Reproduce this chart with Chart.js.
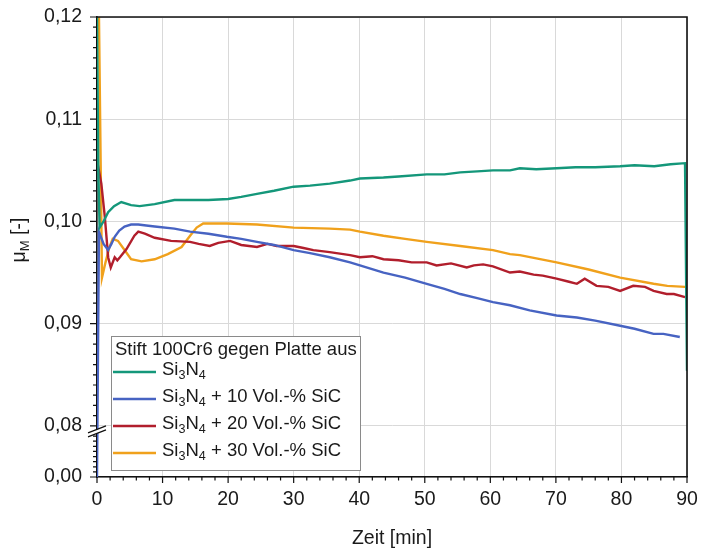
<!DOCTYPE html>
<html><head><meta charset="utf-8">
<script src="https://cdn.jsdelivr.net/npm/chart.js@4"></script>
<style>html,body{margin:0;padding:0;background:#fff}#c{display:block}</style>
</head><body>
<canvas id="c" width="704" height="553"></canvas>
<script>
// ---- data (time in min, friction coefficient mu_M) ----
const legendTitle = "Stift 100Cr6 gegen Platte aus";
const seriesNames = ["Si3N4", "Si3N4 + 10 Vol.-% SiC", "Si3N4 + 20 Vol.-% SiC", "Si3N4 + 30 Vol.-% SiC"];
const seriesColors = ["#14977a", "#4763c2", "#b11e2c", "#f0a11c"];

const tGreen = [0, 0.2, 0.4, 1.0, 1.7, 2.6, 3.7, 5.2, 6.5, 8.8, 11.8, 14.2, 17, 20, 22, 24.4, 27, 30, 32.5, 35.5, 38.6, 40.1, 43.7, 46, 50.3, 53, 55.4, 58, 60.4, 63, 64.5, 67, 70.1, 73, 76, 79.8, 82, 85, 87.5, 89.7, 90];
const vGreen = [0.1200, 0.1050, 0.0994, 0.1000, 0.1009, 0.1015, 0.1019, 0.1016, 0.1015, 0.1017, 0.1021, 0.1021, 0.1021, 0.1022, 0.1024, 0.1027, 0.1030, 0.1034, 0.1035, 0.1037, 0.1040, 0.1042, 0.1043, 0.1044, 0.1046, 0.1046, 0.1048, 0.1049, 0.1050, 0.1050, 0.1052, 0.1051, 0.1052, 0.1053, 0.1053, 0.1054, 0.1055, 0.1054, 0.1056, 0.1057, 0.0854];

const tBlue = [0, 0.3, 1.0, 1.7, 2.2, 2.7, 3.4, 4.2, 5.2, 6.3, 7.5, 8.8, 11.8, 14.2, 17, 19.8, 22, 24.4, 27, 30, 32.5, 35.5, 38.6, 40.1, 43.7, 47, 50.3, 53, 55.4, 58, 60.4, 63, 66, 70.1, 73.2, 76, 79.8, 82, 84.9, 86.4, 88.9];
const vBlue = [0.0000, 0.0990, 0.0978, 0.0972, 0.0978, 0.0985, 0.0991, 0.0995, 0.0997, 0.0997, 0.0996, 0.0995, 0.0993, 0.0990, 0.0988, 0.0985, 0.0983, 0.0980, 0.0977, 0.0972, 0.0969, 0.0965, 0.0960, 0.0957, 0.0950, 0.0945, 0.0939, 0.0934, 0.0929, 0.0925, 0.0921, 0.0918, 0.0913, 0.0908, 0.0906, 0.0903, 0.0898, 0.0895, 0.0890, 0.0890, 0.0887];

const tRed = [0, 0.66, 1.2, 1.7, 2.1, 2.7, 3.1, 3.5, 4.5, 5.7, 6.3, 7.3, 8.8, 11.3, 14.2, 15.5, 17.2, 18.5, 20.3, 22, 24.4, 26, 27.4, 30, 31.5, 33, 35.5, 38.6, 40.1, 42, 43.7, 46, 48, 50.3, 51.8, 54, 56.4, 57.5, 58.9, 60.4, 63, 64.5, 66.6, 68, 70.1, 72, 73.2, 74.4, 76.2, 78, 79.8, 81.8, 83.6, 84.9, 86.9, 88, 89.7];
const vRed = [0.1060, 0.1037, 0.1004, 0.0965, 0.0955, 0.0965, 0.0962, 0.0965, 0.0973, 0.0986, 0.0990, 0.0988, 0.0984, 0.0981, 0.0980, 0.0978, 0.0976, 0.0979, 0.0981, 0.0977, 0.0975, 0.0978, 0.0976, 0.0976, 0.0974, 0.0972, 0.0970, 0.0967, 0.0965, 0.0966, 0.0963, 0.0962, 0.0960, 0.0960, 0.0957, 0.0959, 0.0955, 0.0957, 0.0958, 0.0956, 0.0950, 0.0951, 0.0948, 0.0947, 0.0944, 0.0941, 0.0939, 0.0944, 0.0937, 0.0936, 0.0932, 0.0937, 0.0936, 0.0932, 0.0929, 0.0929, 0.0926];

const tOrange = [0, 0.3, 0.76, 1.3, 1.9, 2.4, 3.2, 4.2, 5.2, 6.8, 8.8, 10.8, 12.9, 14.2, 15.2, 16.2, 19.8, 24.4, 30, 35.5, 38.6, 40.1, 43.7, 47, 50.3, 55.4, 60.4, 63, 64.5, 70.1, 75, 79.8, 84.9, 87, 89.7, 90];
const vOrange = [0.1200, 0.1200, 0.0945, 0.0960, 0.0975, 0.0983, 0.0981, 0.0972, 0.0963, 0.0961, 0.0963, 0.0968, 0.0975, 0.0986, 0.0994, 0.0998, 0.0998, 0.0997, 0.0994, 0.0993, 0.0992, 0.0990, 0.0986, 0.0983, 0.0980, 0.0976, 0.0972, 0.0968, 0.0967, 0.0960, 0.0953, 0.0945, 0.0939, 0.0937, 0.0936, 0.0936];

const xTickValues = [0, 10, 20, 30, 40, 50, 60, 70, 80, 90];
const yTickValues = [0.00, 0.08, 0.09, 0.10, 0.11, 0.12];
const yTickLabels = ["0,00", "0,08", "0,09", "0,10", "0,11", "0,12"];

// ---- axis break: real values below 0.08 are compressed into [0.075, 0.08] ----
const BREAK = 0.08, BOTTOM = 0.075;
function disp(v) { return v >= BREAK ? v : BOTTOM + v * (BREAK - BOTTOM) / BREAK; }
function pts(t, v) { return t.map((x, i) => ({ x: x, y: disp(v[i]) })); }

const FONT = "'Liberation Sans', Arial, Helvetica, sans-serif";
Chart.defaults.font.family = FONT;
Chart.defaults.font.size = 18.5;
Chart.defaults.color = "#1a1a1a";

const datasets = [[tGreen, vGreen], [tBlue, vBlue], [tRed, vRed], [tOrange, vOrange]].map((d, i) => ({
  label: seriesNames[i],
  data: pts(d[0], d[1]),
  borderColor: seriesColors[i],
  backgroundColor: seriesColors[i],
  borderWidth: 2.4,
  pointRadius: 0,
  tension: 0,
  fill: false
}));

function drawRich(ctx, x, y, text, size) {
  const parts = [];
  const m = text.match(/^Si3N4(.*)$/);
  if (m) { parts.push(["Si", 0], ["3", 1], ["N", 0], ["4", 1], [m[1], 0]); }
  else parts.push([text, 0]);
  let cx = x;
  for (const [s, sub] of parts) {
    ctx.font = (sub ? size * 0.68 : size) + "px " + FONT;
    ctx.fillText(s, cx, y + (sub ? size * 0.3 : 0));
    cx += ctx.measureText(s).width;
  }
}

const deco = {
  id: "deco",
  afterDraw(chart) {
    const ctx = chart.ctx, a = chart.chartArea;
    const xs = chart.scales.x, ys = chart.scales.y;
    ctx.save();
    ctx.strokeStyle = "#111";
    ctx.lineWidth = 1.6;
    ctx.beginPath();
    ctx.moveTo(a.left, a.top); ctx.lineTo(a.right, a.top); ctx.lineTo(a.right, a.bottom);
    ctx.stroke();
    ctx.lineWidth = 1.2;
    ctx.beginPath();
    for (let k = 0; k <= 40; k++) {
      const v = 0.08 + k * 0.001;
      const p = ys.getPixelForValue(v);
      const major = k % 10 === 0;
      ctx.moveTo(a.left, p); ctx.lineTo(a.left - (major ? 7 : 4), p);
    }
    for (let k = 1; k < 10; k++) {
      const p = ys.getPixelForValue(BOTTOM + k * 0.0005);
      ctx.moveTo(a.left, p); ctx.lineTo(a.left - 4, p);
    }
    const p0 = ys.getPixelForValue(BOTTOM);
    ctx.moveTo(a.left, p0); ctx.lineTo(a.left - 7, p0);
    for (let k = 0; k <= 45; k++) {
      const t = k * 2;
      const px = xs.getPixelForValue(t);
      const major = t % 10 === 0;
      ctx.moveTo(px, a.bottom); ctx.lineTo(px, a.bottom + (major ? 6 : 3.5));
    }
    ctx.stroke();
    // axis break symbol
    const yb = ys.getPixelForValue(BREAK) + 5;
    ctx.fillStyle = "#fff";
    ctx.beginPath();
    ctx.moveTo(a.left - 9, yb + 2); ctx.lineTo(a.left + 9, yb - 5);
    ctx.lineTo(a.left + 9, yb - 1); ctx.lineTo(a.left - 9, yb + 6); ctx.closePath();
    ctx.fill();
    ctx.lineWidth = 1.2;
    ctx.beginPath();
    ctx.moveTo(a.left - 9, yb + 2); ctx.lineTo(a.left + 9, yb - 5);
    ctx.moveTo(a.left - 9, yb + 6); ctx.lineTo(a.left + 9, yb - 1);
    ctx.stroke();

    // legend box
    const L = 111, T = 336, R = 360, B = 470;
    ctx.fillStyle = "#fff";
    ctx.fillRect(L, T, R - L, B - T);
    ctx.strokeStyle = "#8a8a8a";
    ctx.lineWidth = 1;
    ctx.strokeRect(L + 0.5, T + 0.5, R - L, B - T);
    ctx.fillStyle = "#1a1a1a";
    ctx.textBaseline = "middle";
    ctx.textAlign = "left";
    ctx.font = "18.5px " + FONT;
    ctx.fillText(legendTitle, 115, 350);
    const rows = [372, 399, 426, 453];
    chart.data.datasets.forEach((ds, i) => {
      ctx.strokeStyle = ds.borderColor;
      ctx.lineWidth = 2.4;
      ctx.beginPath(); ctx.moveTo(113, rows[i]); ctx.lineTo(156, rows[i]); ctx.stroke();
      ctx.fillStyle = "#1a1a1a";
      drawRich(ctx, 162, rows[i] - 2, ds.label, 18.5);
    });

    // axis titles
    ctx.fillStyle = "#1a1a1a";
    ctx.textAlign = "center";
    ctx.font = "19.5px " + FONT;
    ctx.fillText("Zeit [min]", (a.left + a.right) / 2, 539);
    ctx.save();
    ctx.translate(20, 240);
    ctx.rotate(-Math.PI / 2);
    ctx.textAlign = "left";
    const w1 = (ctx.font = "19.5px " + FONT, ctx.measureText("μ").width);
    const w2 = (ctx.font = "13px " + FONT, ctx.measureText("M").width);
    const w3 = (ctx.font = "19.5px " + FONT, ctx.measureText(" [-]").width);
    let sx = -(w1 + w2 + w3) / 2;
    ctx.font = "19.5px " + FONT; ctx.fillText("μ", sx, 0); sx += w1;
    ctx.font = "13px " + FONT; ctx.fillText("M", sx, 5); sx += w2;
    ctx.font = "19.5px " + FONT; ctx.fillText(" [-]", sx, 0);
    ctx.restore();
    ctx.restore();
  }
};

new Chart(document.getElementById("c"), {
  type: "line",
  data: { datasets: datasets },
  options: {
    responsive: false,
    animation: false,
    events: [],
    layout: { padding: { left: 0, top: 17, right: 17, bottom: 0 } },
    plugins: { legend: { display: false }, tooltip: { enabled: false } },
    scales: {
      x: {
        type: "linear", min: 0, max: 90,
        afterFit(s) { s.height = 76; s.paddingLeft = 0; s.paddingRight = 0; },
        afterBuildTicks(s) { s.ticks = xTickValues.map(v => ({ value: v })); },
        ticks: { padding: 11, maxRotation: 0, callback: v => String(v), color: "#1a1a1a", font: { size: 19.5 } },
        grid: { color: "#d9d9d9", lineWidth: 1, drawTicks: false },
        border: { color: "#111", width: 1.6 }
      },
      y: {
        type: "linear", min: BOTTOM, max: 0.12,
        afterFit(s) { s.width = 97; s.paddingTop = 0; s.paddingBottom = 0; },
        afterBuildTicks(s) { s.ticks = yTickValues.map(v => ({ value: disp(v) })); },
        ticks: {
          padding: 15, color: "#1a1a1a", font: { size: 19.5 },
          callback: (v) => { const i = yTickValues.findIndex(t => Math.abs(disp(t) - v) < 1e-6); return i >= 0 ? yTickLabels[i] : ""; }
        },
        grid: { color: "#d9d9d9", lineWidth: 1, drawTicks: false },
        border: { color: "#111", width: 1.6 }
      }
    }
  },
  plugins: [deco]
});
</script>
</body></html>
